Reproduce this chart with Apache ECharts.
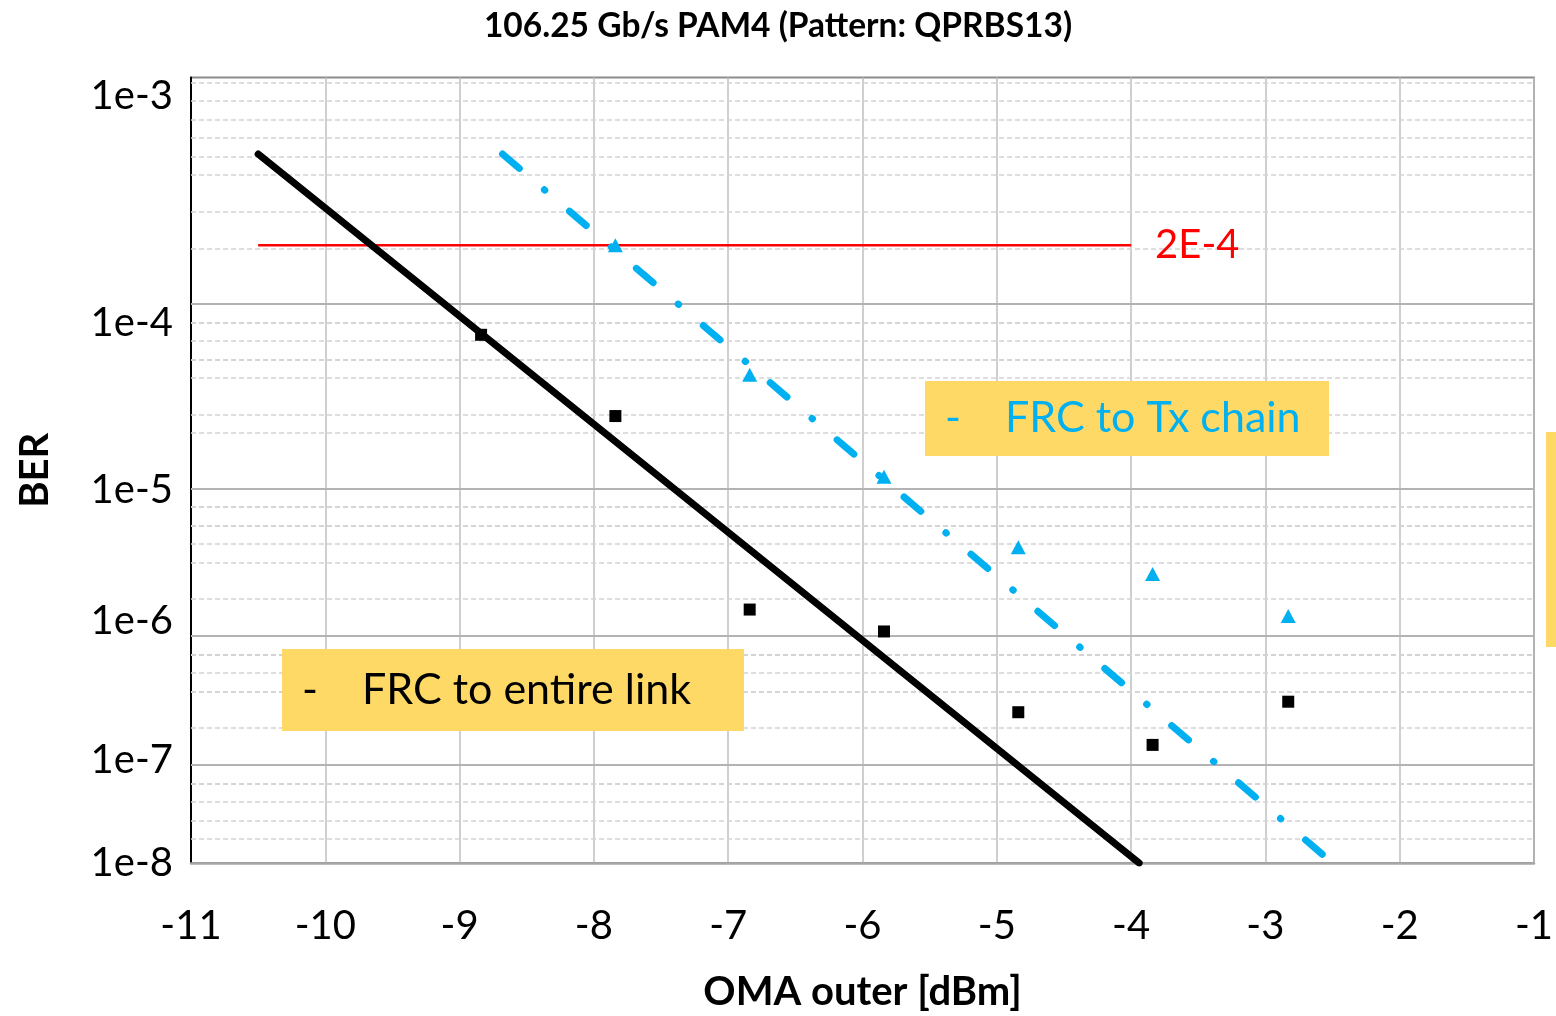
<!DOCTYPE html>
<html>
<head>
<meta charset="utf-8">
<title>106.25 Gb/s PAM4 BER</title>
<script src="https://cdn.jsdelivr.net/npm/echarts@6/dist/echarts.min.js"></script>
<style>
  html, body { margin: 0; padding: 0; background: #fff; }
  #berChart { width: 1556px; height: 1016px; }
</style>
</head>
<body>
<div id="berChart"></div>
<script>
// measured points, OMA outer [dBm] / BER
var omaLink = [-8.84, -7.84, -6.84, -5.84, -4.84, -3.84, -2.83];
var berLink = [7.3e-5, 2.64e-5, 1.48e-6, 1.02e-6, 2.36e-7, 1.25e-7, 2.88e-7];
var omaTx = [-7.84, -6.84, -5.84, -4.84, -3.84, -2.83];
var berTx = [2.0e-4, 4.48e-5, 1.15e-5, 4.04e-6, 2.65e-6, 1.33e-6];

// fitted lines (end points)
var fitLinkOma = [-10.5, -3.94];
var fitLinkBer = [5e-4, 1e-8];
var fitTxOma = [-8.68, -2.5];
var fitTxBer = [5e-4, 1e-8];

// FEC limit
var limitOma = [-10.5, -4];
var limitBer = [2e-4, 2e-4];

// y axis decades (1e-3 .. 1e-8) and minor mantissas
var decades = [3, 4, 5, 6, 7, 8];
var mantissas = [2, 3, 4, 5, 6, 7, 8, 9];
// small shift of each decade label (px), as in the picture
var labelShift = [19, 15, 3, -12, 4, 0];

// BER axis: log10(-log10(BER))
function toU(ber) { return Math.log10(-Math.log10(ber)); }

function pairs(xs, bers) {
  return xs.map(function (x, i) { return [x, toU(bers[i])]; });
}

var majorVals = decades.map(function (d) { return toU(Math.pow(10, -d)); });
var minorVals = [];
decades.slice(0, -1).forEach(function (d) {
  mantissas.forEach(function (m) { minorVals.push(toU(m * Math.pow(10, -(d + 1)))); });
});

var rich = {};
labelShift.forEach(function (s, i) {
  rich['d' + i] = {
    fontSize: 40, fontFamily: 'Lato', color: '#000',
    padding: s >= 0 ? [2 * s, 0, 0, 0] : [0, 0, -2 * s, 0]
  };
});

// yellow note box with a dash and a caption
function noteBox(x, y, w, h, caption, color) {
  var txt = { fontFamily: 'Lato', fontSize: 43, fill: color, verticalAlign: 'middle' };
  return {
    type: 'group', x: x, y: y,
    children: [
      { type: 'rect', z: 100, shape: { x: 0, y: 0, width: w, height: h }, style: { fill: '#ffd966' } },
      { type: 'text', z: 101, x: 20, y: h / 2, style: Object.assign({ text: '-' }, txt) },
      { type: 'text', z: 101, x: 80, y: h / 2, style: Object.assign({ text: caption }, txt) }
    ]
  };
}

var chart = echarts.init(document.getElementById('berChart'));
chart.setOption({
  animation: false,
  title: {
    text: '106.25 Gb/s PAM4 (Pattern: QPRBS13)',
    left: 'center',
    top: 4,
    textStyle: { fontFamily: 'Lato', fontWeight: 'bold', fontSize: 33.5, color: '#000' }
  },
  grid: {
    left: 191, right: 22, top: 77.5, bottom: 153,
    outerBoundsMode: 'none',
    containLabel: false,
    show: true, borderColor: '#8c8c8c', borderWidth: 2
  },
  xAxis: {
    type: 'value',
    min: -11, max: -1, interval: 1,
    name: 'OMA outer [dBm]',
    nameLocation: 'middle',
    nameGap: 109,
    nameTextStyle: { fontFamily: 'Lato', fontWeight: 'bold', fontSize: 40, color: '#000' },
    axisLine: { lineStyle: { color: '#a6a6a6', width: 2.5 } },
    axisTick: { show: false },
    axisLabel: { fontFamily: 'Lato', fontSize: 40, color: '#000', margin: 43 },
    splitLine: { lineStyle: { color: '#bfbfbf', width: 1.5 } }
  },
  yAxis: {
    type: 'value',
    inverse: true,
    min: majorVals[0],
    max: majorVals[majorVals.length - 1],
    name: 'BER',
    nameLocation: 'middle',
    nameGap: 136,
    nameTextStyle: { fontFamily: 'Lato', fontWeight: 'bold', fontSize: 40, color: '#000' },
    axisLine: { show: true, lineStyle: { color: '#000', width: 2 } },
    axisTick: { show: false },
    splitLine: { show: false },
    axisLabel: {
      customValues: majorVals,
      margin: 18,
      formatter: function (v) {
        var d = Math.round(Math.pow(10, v));
        var i = decades.indexOf(d);
        return '{d' + i + '|1e-' + d + '}';
      },
      rich: rich
    }
  },
  series: [
    {
      name: 'minor grid',
      type: 'line',
      silent: true,
      z: 1,
      showSymbol: false,
      lineStyle: { opacity: 0 },
      data: [[-11, majorVals[0]]],
      markLine: {
        silent: true,
        z: 1,
        symbol: 'none',
        label: { show: false },
        lineStyle: { color: '#d4d4d4', width: 1.5, type: [5, 3] },
        data: minorVals.map(function (v) { return { yAxis: v }; })
      }
    },
    {
      name: 'major grid',
      type: 'line',
      silent: true,
      z: 2,
      showSymbol: false,
      lineStyle: { opacity: 0 },
      data: [[-11, majorVals[0]]],
      markLine: {
        silent: true,
        z: 2,
        symbol: 'none',
        label: { show: false },
        lineStyle: { color: '#b3b3b3', width: 2, type: 'solid' },
        data: majorVals.slice(1, -1).map(function (v) { return { yAxis: v }; })
      }
    },
    {
      name: '2E-4',
      type: 'line',
      z: 3,
      showSymbol: false,
      lineStyle: { color: '#ff0000', width: 2.5 },
      data: pairs(limitOma, limitBer),
      endLabel: {
        show: true,
        formatter: '2E-4',
        distance: 24,
        fontFamily: 'Lato', fontSize: 40, color: '#ff0000'
      }
    },
    {
      name: 'FRC to entire link fit',
      type: 'line',
      z: 4,
      showSymbol: false,
      lineStyle: { color: '#000', width: 7, cap: 'round' },
      data: pairs(fitLinkOma, fitLinkBer)
    },
    {
      name: 'FRC to Tx chain fit',
      type: 'line',
      z: 4,
      showSymbol: false,
      lineStyle: { color: '#00b0f0', width: 7, cap: 'round', type: [22, 33, 0.5, 32.5] },
      data: pairs(fitTxOma, fitTxBer)
    },
    {
      name: 'FRC to entire link',
      type: 'scatter',
      z: 5,
      symbol: 'rect',
      symbolSize: 12,
      itemStyle: { color: '#000', opacity: 1 },
      data: pairs(omaLink, berLink)
    },
    {
      name: 'FRC to Tx chain',
      type: 'scatter',
      z: 5,
      symbol: 'triangle',
      symbolSize: [15, 14],
      itemStyle: { color: '#00b0f0', opacity: 1 },
      data: pairs(omaTx, berTx)
    }
  ],
  graphic: {
    elements: [
      noteBox(925, 381, 404, 75, 'FRC to Tx chain', '#00b0f0'),
      noteBox(282, 649, 462, 82, 'FRC to entire link', '#000'),
      {
        type: 'rect', z: 100, x: 1546, y: 432,
        shape: { x: 0, y: 0, width: 10, height: 215 },
        style: { fill: '#ffd966' }
      }
    ]
  }
});
</script>
</body>
</html>
